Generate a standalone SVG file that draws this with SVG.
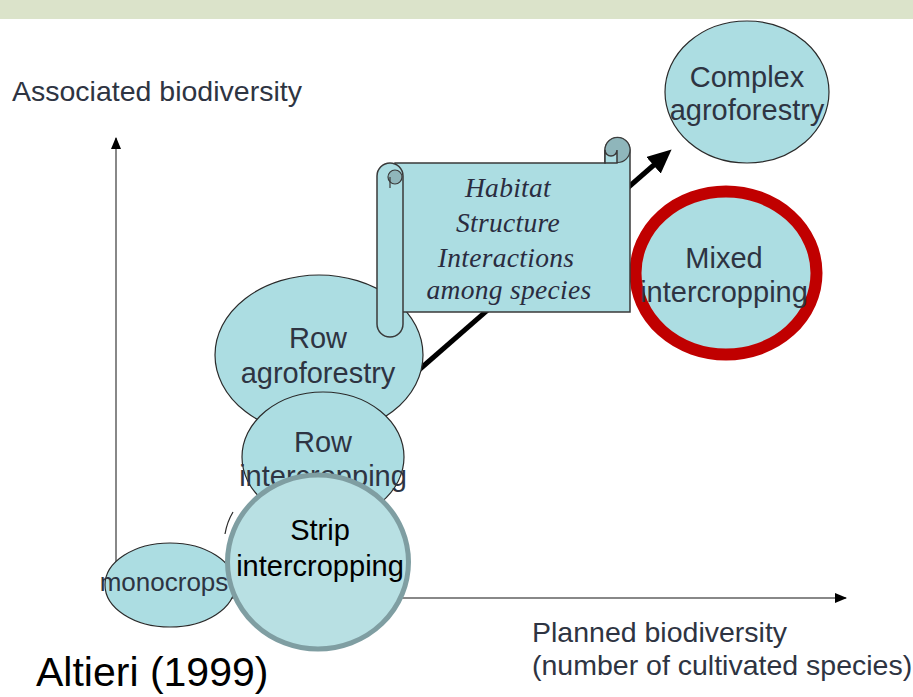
<svg xmlns="http://www.w3.org/2000/svg" width="913" height="697" viewBox="0 0 913 697">
<style>
.lbl{font-family:"Liberation Sans",Arial,sans-serif;font-size:29px;fill:#2e3442;text-anchor:middle}
.ax{font-family:"Liberation Sans",Arial,sans-serif;font-size:28.5px;fill:#2e3442}
.node{fill:#acdde2;stroke:#2a2a2a;stroke-width:1.2}
.scr{fill:#acdde2;stroke:#3a3a3a;stroke-width:1.5}
.curl{fill:#8fb6bb;stroke:#3a3a3a;stroke-width:1.2}
.it{font-family:"Liberation Serif","Times New Roman",serif;font-style:italic;font-size:27.5px;fill:#2a2c40;text-anchor:middle;letter-spacing:0.3px}
.blk{font-family:"Liberation Sans",Arial,sans-serif;font-size:29px;fill:#000;text-anchor:middle}
</style>
<defs>
<marker id="ah" markerUnits="userSpaceOnUse" markerWidth="12" markerHeight="10" refX="11" refY="5" orient="auto"><path d="M0,0 L12,5 L0,10 Z" fill="#000"/></marker>
<marker id="big" markerUnits="userSpaceOnUse" markerWidth="24" markerHeight="22" refX="2" refY="11" orient="auto"><path d="M0,0 L24,11 L0,22 Z" fill="#000"/></marker>
</defs>
<rect x="0" y="0" width="913" height="697" fill="#ffffff"/>
<rect x="0" y="0" width="913" height="19" fill="#dbe3ca"/>
<g id="connectors">
<line x1="116" y1="598" x2="116" y2="138" stroke="#888" stroke-width="2" marker-end="url(#ah)"/>
<line x1="116" y1="598" x2="846" y2="598" stroke="#888" stroke-width="2" marker-end="url(#ah)"/>
<line x1="412" y1="376" x2="655" y2="164" stroke="#000" stroke-width="5" marker-end="url(#big)"/>
</g>
<g id="axis-y-label"><text class="ax" x="12" y="101">Associated biodiversity</text></g>
<g id="axis-x-label"><text class="ax" x="532" y="642">Planned biodiversity</text><text class="ax" x="532" y="675">(number of cultivated species)</text></g>
<g id="complex-agroforestry"><ellipse class="node" cx="747" cy="92" rx="82" ry="71"/><text class="lbl" x="747" y="87">Complex</text><text class="lbl" x="747" y="120">agroforestry</text></g>
<g id="mixed-intercropping"><ellipse cx="726" cy="273" rx="90.5" ry="81.5" fill="#acdde2" stroke="#c00000" stroke-width="12"/><text class="lbl" x="724" y="268">Mixed</text><text class="lbl" x="724" y="302">intercropping</text></g>
<g id="row-agroforestry"><ellipse class="node" cx="319" cy="355" rx="104" ry="80"/><text class="lbl" x="318" y="348">Row</text><text class="lbl" x="318" y="383">agroforestry</text></g>
<g id="scroll">
<path class="scr" d="M395,163 L605,163 L605,150 A12.5,12.5 0 0 1 630,150 L630,312 L395,312 Z"/>
<circle class="curl" cx="617.5" cy="150" r="12.5"/>
<path class="scr" d="M605,150 A6,6 0 0 0 617,150 L617,163 L605,163 Z"/>
<path class="scr" d="M377,176 A13,13 0 0 1 403,176 L403,324 A13,13 0 0 1 377,324 Z"/>
<circle class="curl" cx="395" cy="177" r="7"/>
<line x1="390" y1="177" x2="390" y2="188" stroke="#3a3a3a" stroke-width="1.2"/>
<text class="it" x="508" y="197">Habitat</text>
<text class="it" x="508" y="232">Structure</text>
<text class="it" x="506" y="267">Interactions</text>
<text class="it" x="509" y="299">among species</text>
</g>
<g id="row-intercropping"><ellipse class="node" cx="323" cy="457" rx="81" ry="65"/><text class="lbl" x="323" y="452">Row</text><text class="lbl" x="323" y="486">intercropping</text></g>
<g id="monocrops"><ellipse class="node" cx="170" cy="585" rx="65" ry="42"/><text class="lbl" x="164" y="591" style="font-size:26px">monocrops</text></g>
<path d="M233,512 Q227,522 225,534" fill="none" stroke="#2a2a2a" stroke-width="1.2"/>
<g id="strip-intercropping"><ellipse cx="318" cy="562" rx="90.5" ry="87" fill="#b8e0e3" stroke="#7f9ea2" stroke-width="5"/><text class="blk" x="320" y="540">Strip</text><text class="blk" x="320" y="576">intercropping</text></g>
<g id="citation"><text x="36" y="686" style="font-family:'Liberation Sans',Arial,sans-serif;font-size:41px;fill:#000">Altieri (1999)</text></g>
</svg>
